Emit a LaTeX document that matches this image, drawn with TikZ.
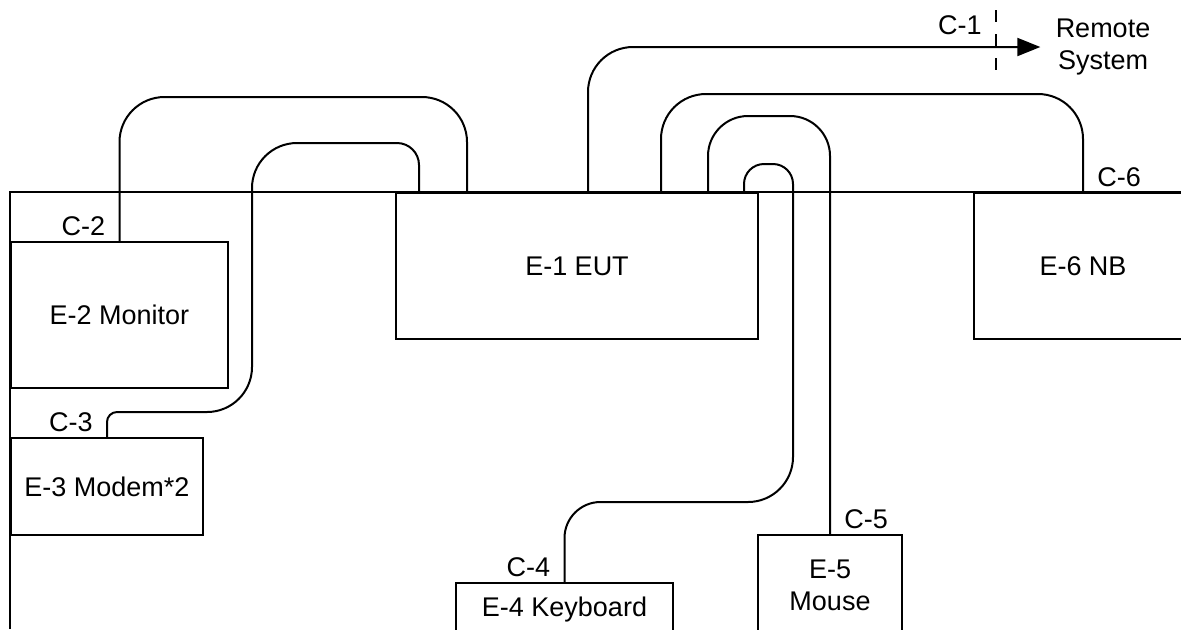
\documentclass[tikz,border=0pt]{standalone}
\usepackage{fontspec}
\setmainfont{Liberation Sans}
\usetikzlibrary{arrows.meta,positioning,calc}
\tikzset{
  unitbox/.style={draw,line width=1pt,anchor=north west,align=center,inner sep=0pt,
                  font=\fontsize{13.5}{16}\selectfont},
  cable/.style={line width=1pt,rounded corners=22.5pt},
  cablelabel/.style={inner xsep=7pt,inner ysep=2.5pt,font=\fontsize{13.5}{16}\selectfont},
  boundary/.style={line width=1pt},
  cutline/.style={line width=1pt,dash pattern=on 6pt off 6pt},
  toremote/.style={-{Triangle[length=11.5pt,width=9pt]},shorten >=4.5pt}
}
\begin{document}
\begin{tikzpicture}[x=0.5pt,y=-0.5pt]
    \useasboundingbox (0,0) rectangle (1181,629);
    \clip (0,0) rectangle (1181,629);

    % equipment
    \node[unitbox,minimum width=181pt,minimum height=73pt] (eut) at (395,192) {E-1 EUT};
    \node[unitbox,minimum width=108.5pt,minimum height=73pt] (mon) at (10,241) {E-2 Monitor};
    \node[unitbox,minimum width=96pt,minimum height=48.5pt] (modem) at (10,437) {E-3 Modem*2};
    \node[unitbox,minimum width=108.5pt,minimum height=26pt] (kbd) at (455,582) {E-4 Keyboard};
    \node[unitbox,minimum width=72pt,minimum height=50pt] (mouse) at (757,534) {E-5\\Mouse};
    \node[unitbox,minimum width=109pt,minimum height=73pt] (nb) at (973,192) {E-6 NB};
    \node[font=\fontsize{13.5}{16}\selectfont,align=center,inner sep=3pt] (remote) at (1103,47) {Remote\\System};

    % table edge
    \draw[boundary] (10,629) |- (1181,192);

    % ports on the EUT
    \coordinate (eut-c3) at ($(eut.north west)+(24,0)$);
    \coordinate (eut-c2) at ($(eut.north west)+(72,0)$);
    \coordinate (eut-c1) at ($(eut.north west)+(193,0)$);
    \coordinate (eut-c6) at ($(eut.north west)+(266,0)$);
    \coordinate (eut-c5) at ($(eut.north west)+(313,0)$);
    \coordinate (eut-c4) at ($(eut.north west)+(349,0)$);
    \coordinate (cut-top) at (996,10);
    \coordinate (cut-bot) at (996,70);

    % cables
    \draw[cable,toremote] (eut-c1) |- (remote.west);
    \draw[cutline] (cut-top) -- (cut-bot);
    \draw[cable] (mon.north) -- ++(0,-144) -| (eut-c2);
    \draw[cable] (modem.north) [rounded corners=5pt] -- ++(0,-25) [rounded corners=22.5pt] -- ++(145,0)
        -- ++(0,-269) [rounded corners=11pt] -| (eut-c3);
    \draw[cable] (eut-c4) [rounded corners=10pt] -- ++(0,-28) -- ++(49,0) [rounded corners=22.5pt]
        -- ++(0,338) [rounded corners=18pt] -| (kbd.north);
    \draw[cable,rounded corners=20pt] (eut-c5) -- ++(0,-76) -| (mouse.north);
    \draw[cable] (eut-c6) -- ++(0,-98) -| (nb.north);

    % cable labels
    \node[cablelabel,below left] (lc1) at (cut-top) {C-1};
    \node[cablelabel,above left] (lc2) at (mon.north) {C-2};
    \node[cablelabel,above left] (lc3) at (modem.north) {C-3};
    \node[cablelabel,above left] (lc4) at (kbd.north) {C-4};
    \node[cablelabel,above right] (lc5) at (mouse.north) {C-5};
    \node[cablelabel,above right] (lc6) at (nb.north) {C-6};
\end{tikzpicture}
\end{document}
